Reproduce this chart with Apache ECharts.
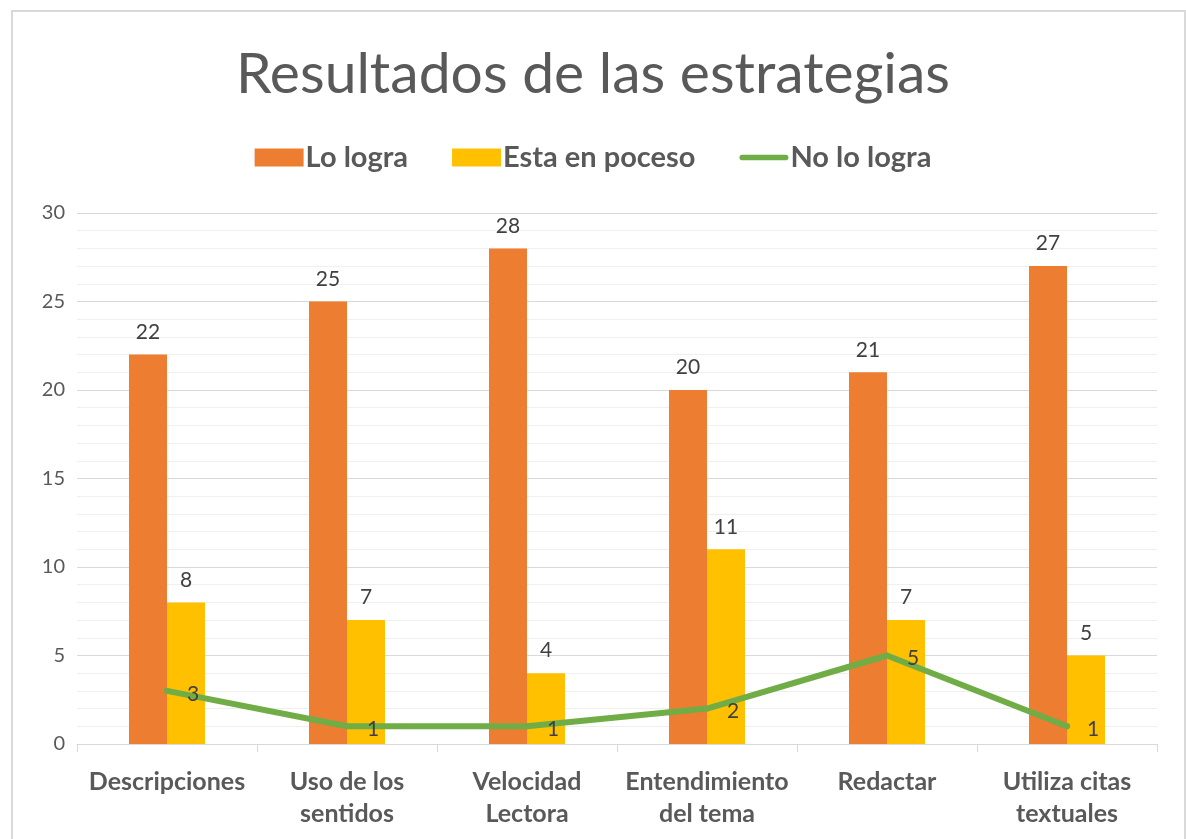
<!DOCTYPE html>
<html><head><meta charset="utf-8">
<script src="https://cdn.jsdelivr.net/npm/echarts@6/dist/echarts.min.js"></script>
<style>html,body{margin:0;padding:0;background:#fff}#c{width:1186px;height:839px}</style>
</head><body><div id="c"></div>
<script>
const categories = ['Descripciones', 'Uso de los\nsentidos', 'Velocidad\nLectora', 'Entendimiento\ndel tema', 'Redactar', 'Utiliza citas\ntextuales'];
const loLogra = [22, 25, 28, 20, 21, 27];
const enProceso = [8, 7, 4, 11, 7, 5];
const noLogra = [3, 1, 1, 2, 5, 1];
const seriesNames = ['Lo logra', 'Esta en poceso', 'No lo logra'];

const FONT = 'Lato, "Open Sans", sans-serif';
const chart = echarts.init(document.getElementById('c'));
chart.setOption({
  animation: false,
  textStyle: { fontFamily: FONT },
  title: {
    text: 'Resultados de las estrategias',
    left: 'center', top: 41,
    textStyle: { fontSize: 57, fontWeight: 'normal', color: '#595959', fontFamily: FONT }
  },
  graphic: [{
    type: 'rect', shape: { x: 12, y: 11, width: 1173, height: 840 },
    style: { fill: 'none', stroke: '#d9d9d9', lineWidth: 2 }, silent: true, z: -1
  }],
  legend: {
    top: 138, left: 'center', itemGap: 44, itemWidth: 49, itemHeight: 18,
    textStyle: { fontSize: 29, fontWeight: 'bold', color: '#595959', fontFamily: FONT, padding: [0, 0, 0, -3] },
    data: [
      { name: seriesNames[0], icon: 'rect' },
      { name: seriesNames[1], icon: 'rect' },
      { name: seriesNames[2], icon: 'path://M3,0 L49,0 A3,3 0 0 1 49,6 L3,6 A3,3 0 0 1 3,0 Z' }
    ]
  },
  grid: { left: 77, right: 29, top: 213, bottom: 95, containLabel: false },
  xAxis: {
    type: 'category', data: categories, boundaryGap: true,
    axisLine: { lineStyle: { color: '#d9d9d9', width: 1 } },
    axisTick: { show: true, length: 8, lineStyle: { color: '#d9d9d9' } },
    axisLabel: { fontSize: 25, fontWeight: 'bold', color: '#595959', margin: 22, lineHeight: 32, interval: 0, fontFamily: FONT }
  },
  yAxis: {
    type: 'value', min: 0, max: 30, interval: 5,
    axisLine: { show: false }, axisTick: { show: false },
    axisLabel: { fontSize: 20, color: '#595959', margin: 12, fontFamily: FONT },
    splitLine: { lineStyle: { color: '#d9d9d9', width: 1 } },
    minorTick: { show: false, splitNumber: 5 },
    minorSplitLine: { show: true, lineStyle: { color: '#efefef', width: 1 } }
  },
  series: [
    {
      name: seriesNames[0], type: 'bar', data: loLogra, barWidth: 38, barGap: '0%',
      itemStyle: { color: '#ED7D31' },
      label: { show: true, position: 'top', distance: 12, fontSize: 21, color: '#404040', fontFamily: FONT }
    },
    {
      name: seriesNames[1], type: 'bar', data: enProceso, barWidth: 38, barGap: '0%',
      itemStyle: { color: '#FFC000' },
      label: { show: true, position: 'top', distance: 12, fontSize: 21, color: '#404040', fontFamily: FONT }
    },
    {
      name: seriesNames[2], type: 'line', data: noLogra,
      symbol: 'circle', symbolSize: 6, showSymbol: true,
      itemStyle: { color: '#70AD47' },
      lineStyle: { color: '#70AD47', width: 6, cap: 'round', join: 'round' },
      label: { show: true, position: 'right', distance: 17, offset: [0, 3], fontSize: 21, color: '#404040', fontFamily: FONT },
      z: 5
    }
  ]
});
</script></body></html>
